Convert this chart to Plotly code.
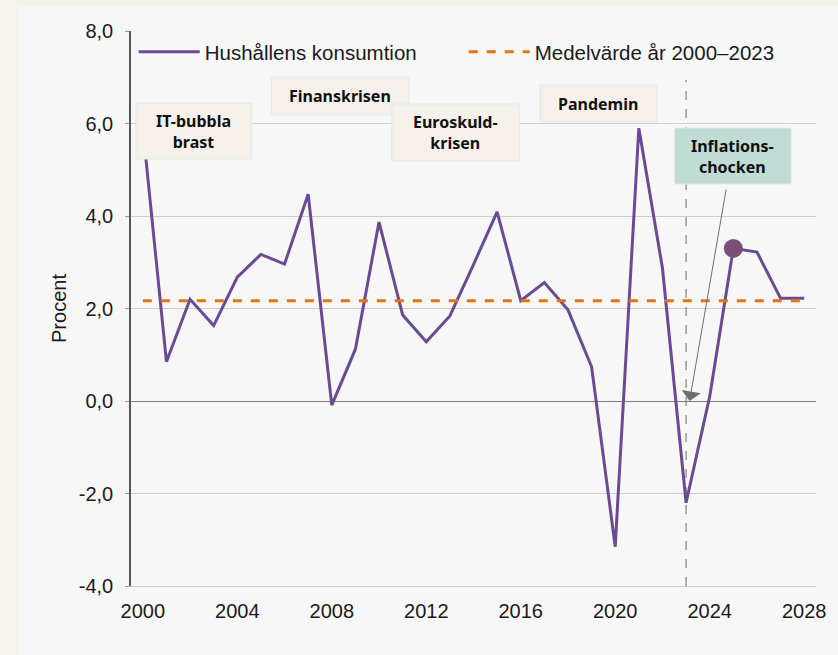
import plotly.graph_objects as go

# ---------------- data ----------------
years = list(range(2000, 2029))
konsumtion = [5.9, 0.85, 2.2, 1.63, 2.68, 3.17, 2.96, 4.47, -0.09, 1.12,
              3.87, 1.86, 1.28, 1.84, 2.95, 4.09, 2.17, 2.56, 1.97, 0.74,
              -3.15, 5.9, 2.87, -2.2, 0.1, 3.3, 3.22, 2.22, 2.22]
medel_value = 2.17
medelvarde = [medel_value] * len(years)
marker_year = [2025]
marker_value = [3.3]
series_names = ["Hushållens konsumtion", "Medelvärde år 2000–2023"]
ytick_vals = [-4, -2, 0, 2, 4, 6, 8]
ytick_text = ["-4,0", "-2,0", "0,0", "2,0", "4,0", "6,0", "8,0"]
xtick_vals = [2000, 2004, 2008, 2012, 2016, 2020, 2024, 2028]
xtick_text = ["2000", "2004", "2008", "2012", "2016", "2020", "2024", "2028"]
event_labels = ["IT-bubbla<br>brast", "Finanskrisen", "Euroskuld-<br>krisen",
                "Pandemin", "Inflations-<br>chocken"]
prognos_start = 2023

# ---------------- layout geometry ----------------
W, H = 838, 655
L, R, T, B = 131, 19, 31, 69
PW, PH = W - L - R, H - T - B
XR = [1999.5, 2028.5]
YR = [-4, 8]

def dx(px):
    return XR[0] + (px - L) / PW * (XR[1] - XR[0])

def dy(py):
    return YR[1] - (py - T) / PH * (YR[1] - YR[0])

PURPLE = "#6a4a96"
ORANGE = "#e8720c"
FONT = "Liberation Sans, Arial, sans-serif"

fig = go.Figure()
fig.add_trace(go.Scatter(x=years, y=konsumtion, mode="lines", name=series_names[0],
                         line=dict(color=PURPLE, width=3)))
fig.add_trace(go.Scatter(x=years, y=medelvarde, mode="lines", name=series_names[1],
                         line=dict(color=ORANGE, width=3, dash="dash")))
fig.add_trace(go.Scatter(x=marker_year, y=marker_value, mode="markers", showlegend=False,
                         marker=dict(color="#7b5078", size=19)))

shapes = []
# inner light panel
shapes.append(dict(type="rect", xref="paper", yref="paper",
                   x0=(18 - L) / PW, x1=(W + 5 - L) / PW,
                   y0=(T + PH - (H + 5)) / PH, y1=(T + PH - 6) / PH,
                   fillcolor="#f7f7f7", line=dict(width=0), layer="below"))
# vertical dashed line at forecast start
shapes.append(dict(type="line", xref="x", yref="y", x0=prognos_start, x1=prognos_start,
                   y0=YR[0], y1=dy(80), line=dict(color="#6a6a6a", width=1, dash="dash")))

# event boxes (pixel boxes -> data coords)
boxes = [
    (136, 252, 103, 159, "#f5f1ea"),
    (272, 410, 77, 115, "#f5f1ea"),
    (393, 521, 104, 161, "#f5f1ea"),
    (542, 659, 85, 122, "#f5f1ea"),
    (677, 794, 128, 184, "#bfddd4"),
]
annotations = []
for (x0, x1, y0, y1, fc), label in zip(boxes, event_labels):
    shapes.append(dict(type="rect", xref="x", yref="y",
                       x0=dx(x0), x1=dx(x1), y0=dy(y1), y1=dy(y0),
                       fillcolor=fc, line=dict(color="#e0ebe4", width=1), layer="above"))
    annotations.append(dict(xref="x", yref="y", x=dx((x0 + x1) / 2), y=dy((y0 + y1) / 2),
                            text="<b>" + label + "</b>", showarrow=False,
                            font=dict(family="Noto Sans, sans-serif", size=16, color="#111111"),
                            align="center"))

# arrow from Inflationschocken to 2023
annotations.append(dict(xref="x", yref="y", axref="x", ayref="y",
                        x=dx(692), y=dy(401), ax=dx(729), ay=dy(188),
                        text="", showarrow=True, arrowhead=1, arrowsize=3.2,
                        arrowwidth=1, arrowcolor="#6e6e6e"))

fig.update_layout(
    width=W, height=H,
    margin=dict(l=L, r=R, t=T, b=B, pad=0),
    paper_bgcolor="#f6f2ec",
    plot_bgcolor="#f7f7f7",
    shapes=shapes,
    annotations=annotations,
    showlegend=True,
    legend=dict(orientation="h", x=0.004, y=(T + PH - 52) / PH, xanchor="left", yanchor="middle",
                bgcolor="rgba(0,0,0,0)", font=dict(family=FONT, size=20.5, color="#1a1a1a"),
                itemwidth=61, entrywidth=254, entrywidthmode="pixels", traceorder="normal"),
    font=dict(family=FONT, color="#1a1a1a"),
)
fig.update_xaxes(range=XR, tickvals=xtick_vals, ticktext=xtick_text, showgrid=False,
                 zeroline=False, showline=True, linecolor="#c8c8c8", linewidth=1,
                 ticks="", ticklabelstandoff=7, tickfont=dict(family=FONT, size=20, color="#1a1a1a"))
fig.update_yaxes(range=YR, tickvals=ytick_vals, ticktext=ytick_text, showgrid=True,
                 gridcolor="#cdcdcd", gridwidth=1, zeroline=True, zerolinecolor="#7f7f7f",
                 zerolinewidth=1, showline=True, linecolor="#555555", linewidth=1.5,
                 ticks="outside", ticklen=4, tickcolor="#9a9a9a", ticklabelstandoff=8,
                 tickfont=dict(family=FONT, size=20, color="#1a1a1a"),
                 title=dict(text="Procent", font=dict(family=FONT, size=20, color="#1a1a1a"),
                            standoff=7))

fig.write_html("out.html", config={"displayModeBar": False},
               post_script="document.body.style.margin='0';")
